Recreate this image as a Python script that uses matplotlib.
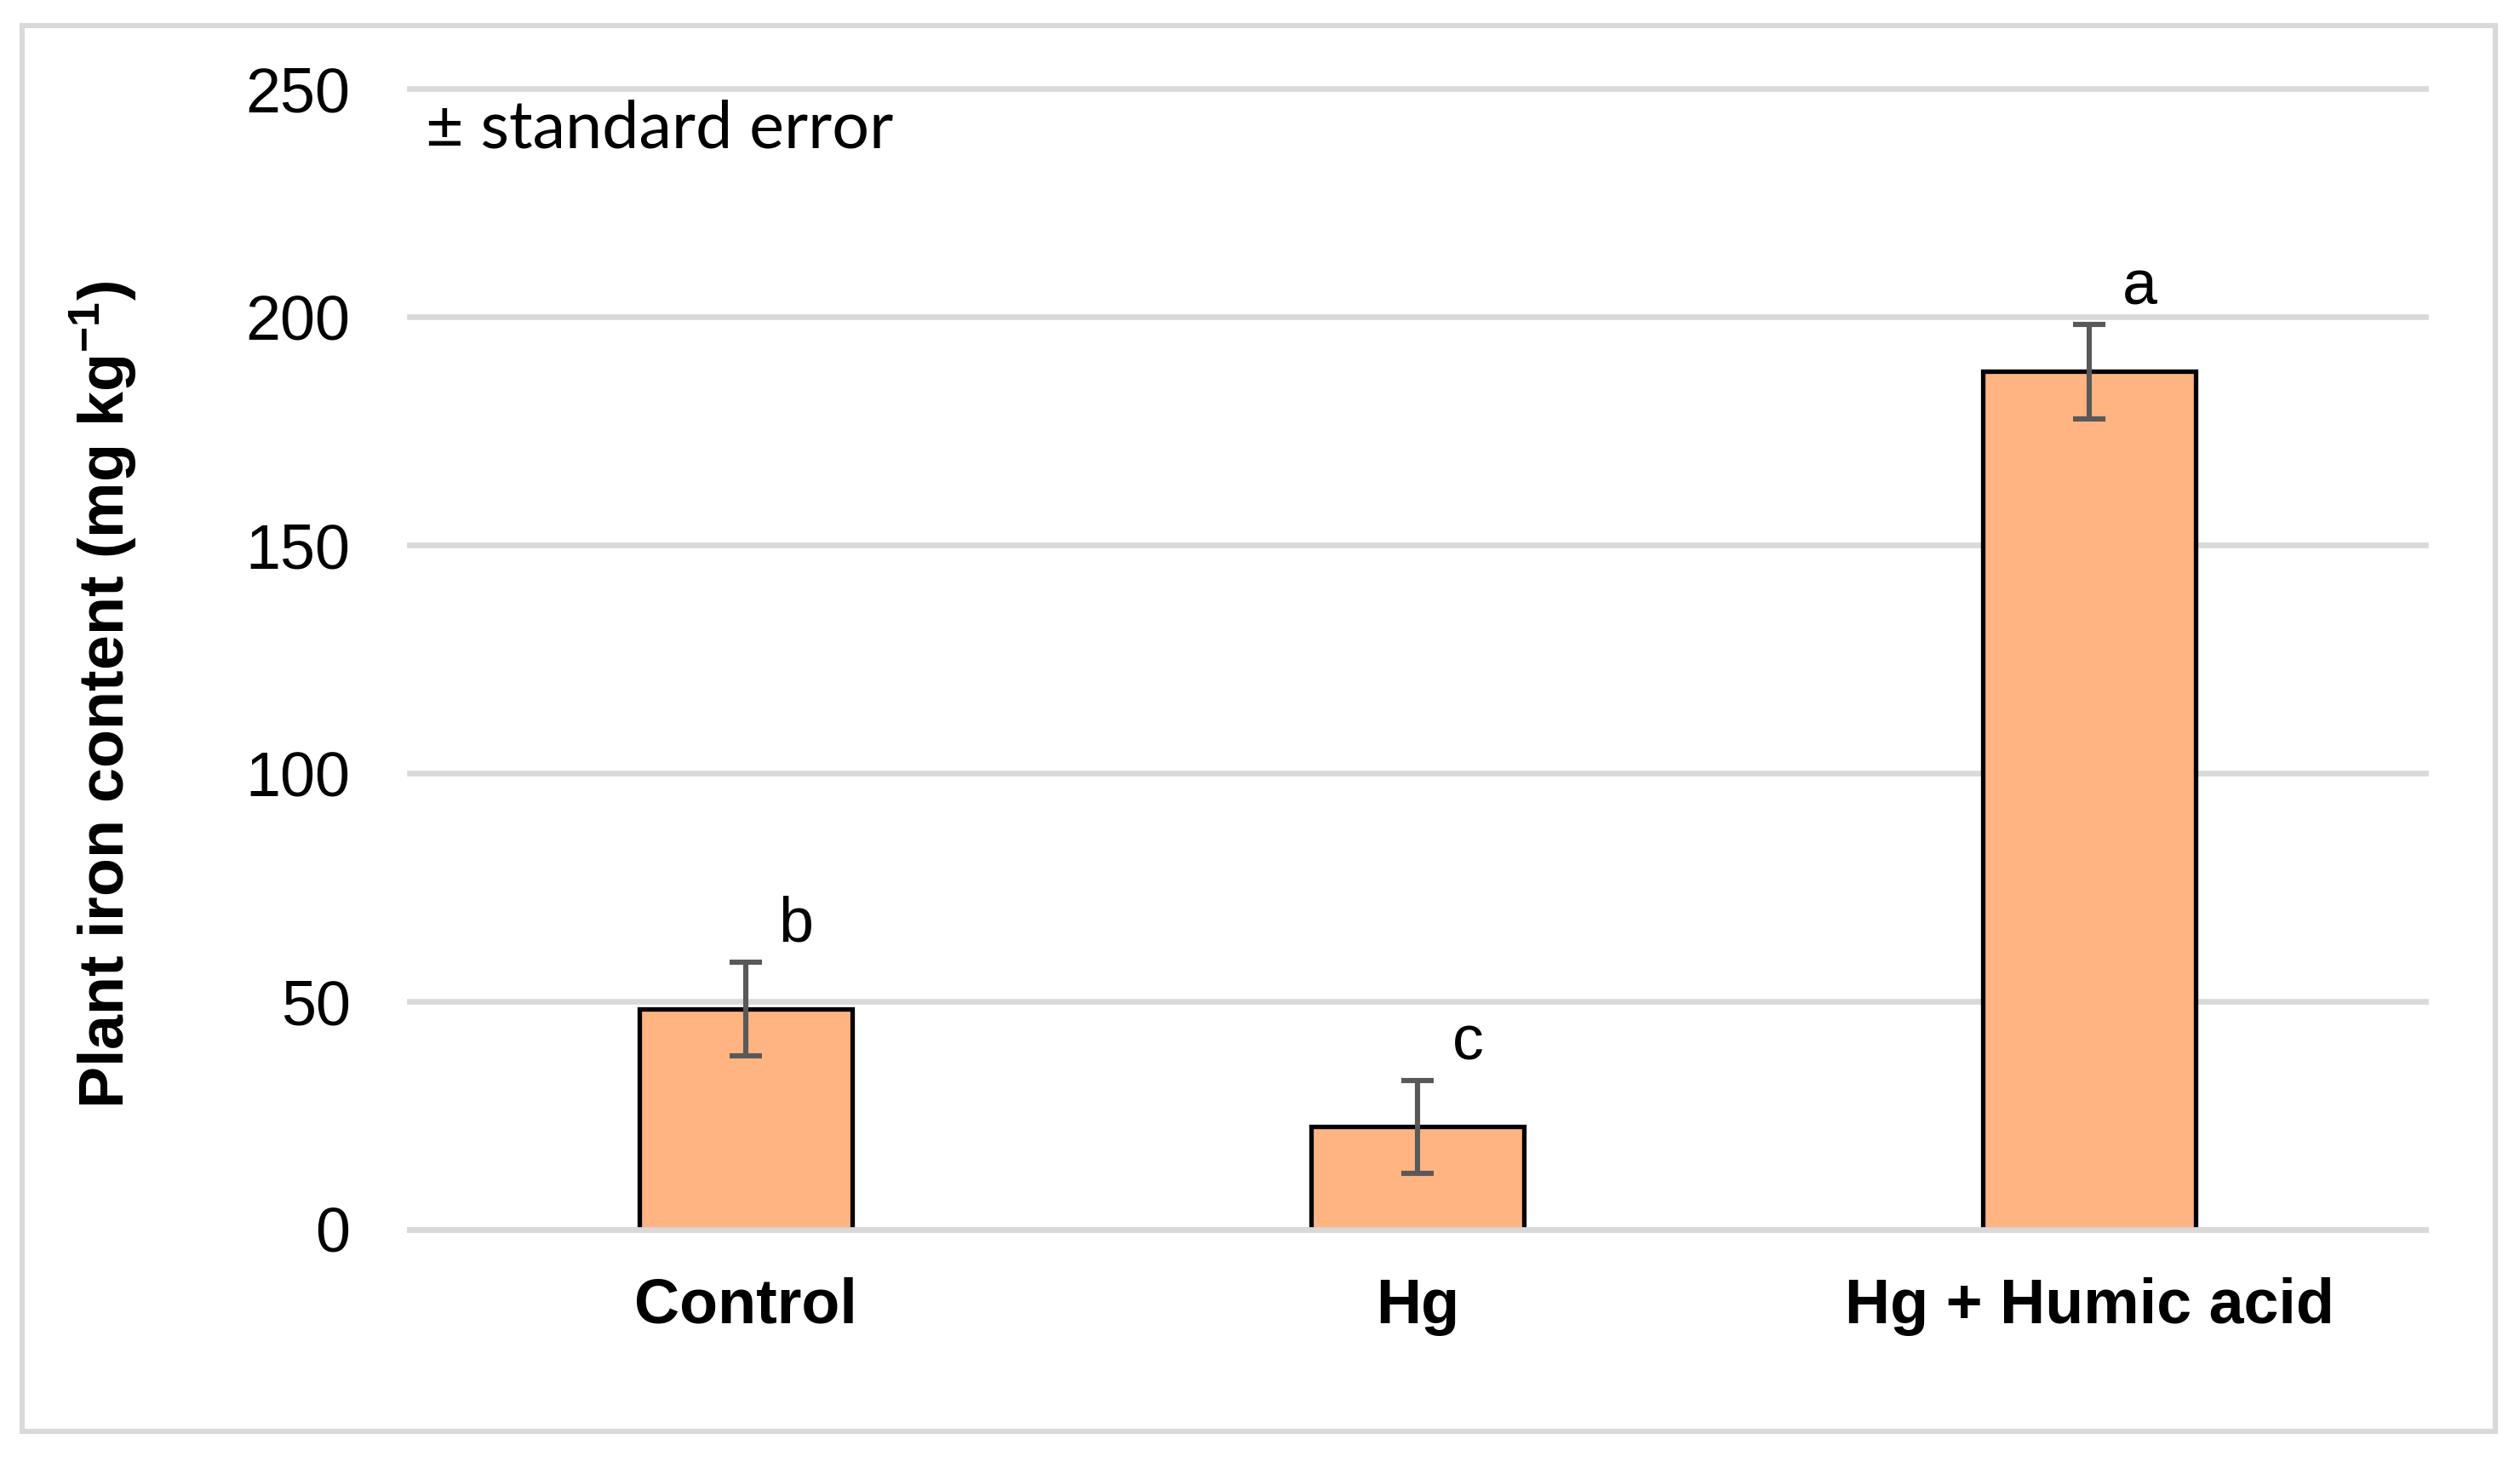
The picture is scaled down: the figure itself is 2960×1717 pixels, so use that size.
import matplotlib
matplotlib.use("Agg")
import matplotlib.pyplot as plt
from matplotlib.patches import Rectangle

# data
categories = ["Control", "Hg", "Hg + Humic acid"]
iron = [48.3, 22.5, 188.0]
std_err = [10.3, 10.2, 10.3]
letters = ["b", "c", "a"]
yticks = [0, 50, 100, 150, 200, 250]

plt.rcParams["font.family"] = ["Liberation Sans", "DejaVu Sans"]
plt.rcParams["mathtext.fontset"] = "custom"
plt.rcParams["mathtext.rm"] = "Liberation Sans"
plt.rcParams["mathtext.bf"] = "Liberation Sans:bold"

fig = plt.figure(figsize=(14.8, 8.585), dpi=200)
ax = fig.add_axes([0.1625, 0.159, 0.8, 0.7804])

# outer chart frame
fig.patches.append(Rectangle((26 / 2960, 1 - 1681 / 1717), (2931 - 26) / 2960, (1681 - 30) / 1717,
                             transform=fig.transFigure, fill=False, edgecolor="#d9d9d9", linewidth=2.2))

x = list(range(len(categories)))
ax.bar(x, iron, width=0.317, color="#ffb482", edgecolor="black", linewidth=1.9, zorder=2)
ax.errorbar(x, iron, yerr=std_err, fmt="none", ecolor="#595959", elinewidth=2.2,
            capsize=7, capthick=2.2, zorder=4)
ax.axhline(0, color="#d9d9d9", linewidth=2.4, zorder=3, clip_on=False)

for xi, v, e, lab in zip(x, iron, std_err, letters):
    ax.text(xi + 0.075, v + e + 4.5, lab, ha="center", va="baseline", fontsize=26.5, zorder=5)

ax.set_xlim(-0.5, 2.5)
ax.set_ylim(0, 250)
ax.set_yticks(yticks)
ax.set_xticks(x)
ax.set_xticklabels(categories, fontsize=26.5, fontweight="bold")
ax.tick_params(axis="y", labelsize=26.5, length=0, pad=25)
ax.tick_params(axis="x", length=0, pad=20)
ax.grid(axis="y", color="#d9d9d9", linewidth=2.4)
for gl in ax.get_ygridlines():
    gl.set_clip_on(False)
ax.set_axisbelow(True)
for s in ax.spines.values():
    s.set_visible(False)

ax.set_ylabel(r"Plant iron content (mg kg$^{\mathbf{-1}}$)", fontsize=26.5, fontweight="bold")
ax.yaxis.set_label_coords(-0.134, 0.469)

ax.text(500 / 2960, 1 - 173 / 1717, "± standard error", transform=fig.transFigure,
        fontsize=27.8, family=["Lato", "DejaVu Sans"], va="baseline", ha="left")

fig.savefig("out.png", dpi=200, facecolor="white")
